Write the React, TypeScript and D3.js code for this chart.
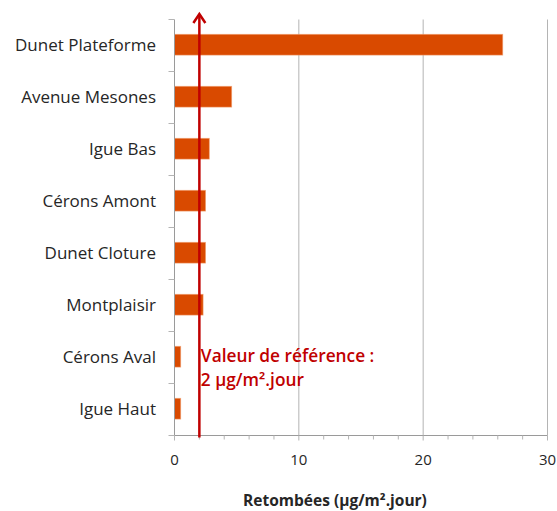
import React from "react";
import * as d3 from "d3";

const categories = [
  "Dunet Plateforme",
  "Avenue Mesones",
  "Igue Bas",
  "Cérons Amont",
  "Dunet Cloture",
  "Montplaisir",
  "Cérons Aval",
  "Igue Haut",
];
const values = [26.4, 4.6, 2.8, 2.5, 2.5, 2.3, 0.5, 0.5];
const majorTicks = [0, 10, 20, 30];
const minorTicks = d3.range(0, 31, 2);
const referenceValue = 2;
const referenceLines = ["Valeur de référence :", "2 µg/m².jour"];
const axisTitle = "Retombées (µg/m².jour)";

const W = 557;
const H = 511;
const left = 174.5;
const right = 547.5;
const top = 19.5;
const bottom = 435.5;
const FONT = "'Open Sans', sans-serif";

export default function App() {
  const x = d3.scaleLinear().domain([0, 30]).range([left, right]);
  const y = d3.scaleBand<string>().domain(categories).range([top, bottom]).padding(0);
  const bh = y.bandwidth() * 0.4;
  const refX = x(referenceValue);
  return (
    <svg
      width={W}
      height={H}
      style={{ position: "absolute", left: 0, top: 0, background: "#fff" }}
      fontFamily={FONT}
    >
      {/* gridlines */}
      {majorTicks.filter((t) => t > 0).map((t) => (
        <line key={"g" + t} x1={x(t)} x2={x(t)} y1={top} y2={bottom} stroke="#b4b4b4" strokeWidth={1} />
      ))}
      {/* bars */}
      {categories.map((c, i) => {
        const yc = (y(c) as number) + y.bandwidth() / 2 - 0.8;
        return (
          <rect
            key={c}
            x={x(0)}
            y={yc - bh / 2}
            width={x(values[i]) - x(0)}
            height={bh}
            fill="#D94A00"
            stroke="#F2A070"
            strokeOpacity={0.7}
            strokeWidth={0.8}
          />
        );
      })}
      {/* y axis */}
      <line x1={left} x2={left} y1={top} y2={bottom} stroke="#9a9a9a" strokeWidth={1} />
      {d3.range(categories.length + 1).map((i) => {
        const yy = top + i * y.step();
        return <line key={"yt" + i} x1={left - 6} x2={left} y1={yy} y2={yy} stroke="#b4b4b4" strokeWidth={1} />;
      })}
      {/* x axis */}
      <line x1={left} x2={right} y1={bottom} y2={bottom} stroke="#9a9a9a" strokeWidth={1} />
      {minorTicks.map((t) => (
        <line
          key={"mt" + t}
          x1={x(t)}
          x2={x(t)}
          y1={bottom}
          y2={bottom + (t % 10 === 0 ? 5 : 4)}
          stroke="#b4b4b4"
          strokeWidth={1}
        />
      ))}
      {majorTicks.map((t) => (
        <text key={"tl" + t} x={x(t)} y={465} textAnchor="middle" fontSize={15} fill="#262626">
          {t}
        </text>
      ))}
      {/* category labels */}
      {categories.map((c) => (
        <text
          key={"l" + c}
          x={156}
          y={(y(c) as number) + y.bandwidth() / 2 + 5.8}
          textAnchor="end"
          fontSize={17}
          fill="#262626"
        >
          {c}
        </text>
      ))}
      {/* reference line */}
      <line x1={refX} x2={refX} y1={bottom + 2} y2={14} stroke="#C00000" strokeWidth={2.5} />
      <polyline
        points={`${refX - 6},${23} ${refX},${14} ${refX + 6},${23}`}
        fill="none"
        stroke="#C00000"
        strokeWidth={2.5}
      />
      {referenceLines.map((s, i) => (
        <text key={"r" + i} x={refX + 1.5} y={361.7 + i * 24.3} fontSize={17.3} fontWeight={600} fill="#C00000">
          {s}
        </text>
      ))}
      <text x={335} y={506} textAnchor="middle" fontSize={15.5} fontWeight={700} fill="#262626">
        {axisTitle}
      </text>
    </svg>
  );
}
